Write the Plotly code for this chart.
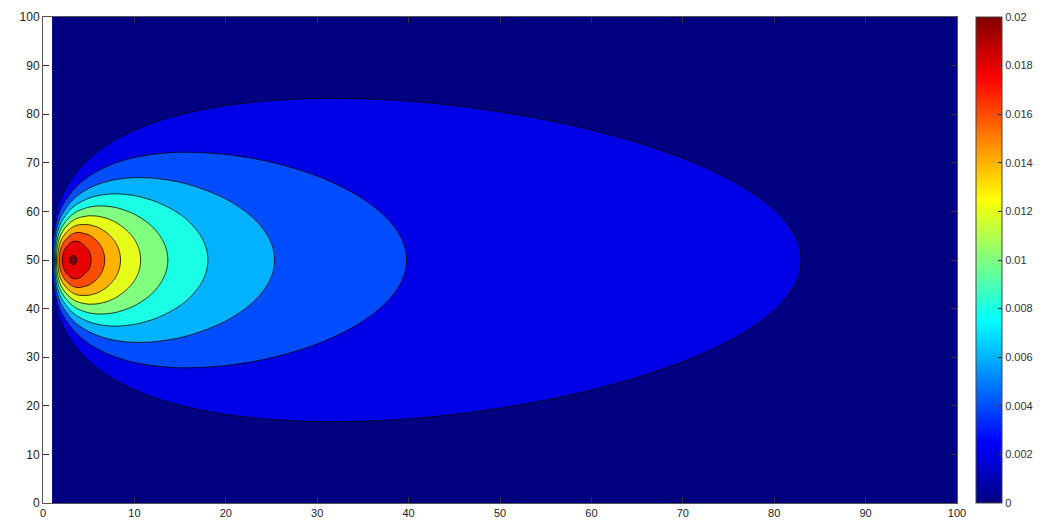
import numpy as np
import plotly.graph_objects as go

# ---- data ----
# downwind positions (x) where the plume centre-line was sampled
x_samples = [1, 1.25, 1.5, 1.75, 2, 2.25, 2.5, 3, 3.3, 3.6, 4, 5, 6, 7, 8, 10, 12, 15,
             20, 25, 30, 40, 50, 60, 70, 80, 90, 100]
# centre-line (y = 50) concentration at those positions
center_conc = [0.0035, 0.0080, 0.0125, 0.0158, 0.0175, 0.0186, 0.0193, 0.02008, 0.02015,
               0.02008, 0.01966, 0.01839, 0.01701, 0.01571, 0.01454, 0.01258, 0.01104,
               0.00931, 0.00735, 0.00607, 0.00517, 0.00398, 0.00323, 0.00272, 0.00235,
               0.00207, 0.00185, 0.00167]
# cross-wind spread (sigma_y) of the plume at those positions
sigma_y = [4.40, 4.92, 5.40, 5.83, 6.23, 6.61, 6.96, 7.63, 8.00, 8.36, 8.81, 9.85, 10.79,
           11.65, 12.46, 13.93, 15.26, 17.06, 19.70, 22.02, 24.12, 27.86, 31.14, 34.12,
           36.85, 39.40, 41.79, 44.05]
plume_axis_y = 50
levels = [0, 0.002, 0.004, 0.006, 0.008, 0.010, 0.012, 0.014, 0.016, 0.018, 0.020]
cbar_ticktext = ['0', '0.002', '0.004', '0.006', '0.008', '0.01', '0.012', '0.014',
                 '0.016', '0.018', '0.02']
x_ticks = list(range(0, 101, 10))
y_ticks = list(range(0, 101, 10))

# ---- field on a grid (smooth interpolation of the sampled profiles) ----
xg = np.linspace(1, 100, 600)
yg = np.linspace(0, 100, 501)
lx = np.log(np.array(x_samples))
cx = np.exp(np.interp(np.log(xg), lx, np.log(np.array(center_conc))))
sx2 = np.interp(xg, x_samples, np.array(sigma_y) ** 2)
Z = cx[None, :] * np.exp(-(yg[:, None] - plume_axis_y) ** 2 / (2 * sx2[None, :]))


# MATLAB jet colormap
def jet(t):
    pts = [(0, (0, 0, 128)), (0.125, (0, 0, 255)), (0.375, (0, 255, 255)),
           (0.625, (255, 255, 0)), (0.875, (255, 0, 0)), (1, (128, 0, 0))]
    for (t0, c0), (t1, c1) in zip(pts[:-1], pts[1:]):
        if t <= t1:
            f = (t - t0) / (t1 - t0)
            return 'rgb(%d,%d,%d)' % tuple(round(a + f * (b - a)) for a, b in zip(c0, c1))
    return 'rgb(128,0,0)'


jet_cont = [[0, 'rgb(0,0,128)'], [0.125, 'rgb(0,0,255)'], [0.375, 'rgb(0,255,255)'],
            [0.625, 'rgb(255,255,0)'], [0.875, 'rgb(255,0,0)'], [1, 'rgb(128,0,0)']]

nlev = len(levels)
cmax = levels[-1]
step = levels[1] - levels[0]
# plotly fills band [L_i, L_i+1] with colour at (i+1)/(nlev); MATLAB uses jet(L_i/cmax)
band_scale = [[0, jet(0)]]
for i in range(nlev - 1):
    band_scale.append([(i + 1) / nlev, jet(levels[i] / cmax)])
band_scale.append([1, jet(1.0)])

fig = go.Figure()
fig.add_trace(go.Contour(
    x=xg, y=yg, z=Z,
    autocontour=False,
    contours=dict(start=levels[0], end=levels[-1], size=step, coloring='fill'),
    colorscale=band_scale,
    line=dict(color='black', width=0.8, smoothing=1),
    showscale=False,
    hoverinfo='skip',
))

fig.add_trace(go.Scatter(
    x=[50], y=[50], mode='markers', hoverinfo='skip', showlegend=False,
    marker=dict(size=0.1, opacity=0, color=[0], cmin=0, cmax=cmax,
                colorscale=jet_cont, showscale=True,
                colorbar=dict(x=(976 - 43) / 914, xanchor='left', xref='paper',
                              y=0.5, yanchor='middle', len=1, lenmode='fraction',
                              thickness=26, xpad=0, ypad=0,
                              outlinecolor='#444', outlinewidth=1,
                              tickvals=levels, ticktext=cbar_ticktext,
                              ticks='inside', ticklen=4, tickcolor='#333',
                              tickfont=dict(family='Liberation Sans', size=11, color='#333'))),
))

axis_common = dict(range=[0, 100], showgrid=False, zeroline=False, automargin=False,
                   ticks='inside', ticklen=6, tickcolor='#333',
                   showline=True, linecolor='#555', linewidth=1, mirror='ticks')
fig.update_xaxes(tickvals=x_ticks,
                 tickfont=dict(family='Liberation Sans', size=11, color='#222'), **axis_common)
fig.update_yaxes(tickvals=y_ticks,
                 tickfont=dict(family='Liberation Sans', size=12, color='#222'), **axis_common)

fig.update_layout(
    width=1050, height=521,
    margin=dict(l=43, r=93, t=17, b=18, autoexpand=False),
    plot_bgcolor='white', paper_bgcolor='white',
    showlegend=False,
)

fig.write_html("out.html", config={'displayModeBar': False},
               post_script="document.body.style.margin='0px';document.body.style.overflow='hidden';")
